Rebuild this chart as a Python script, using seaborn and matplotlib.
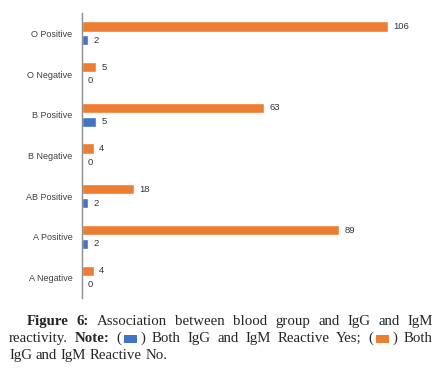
import math
import matplotlib
matplotlib.use("Agg")
import matplotlib.pyplot as plt
import pandas as pd
import seaborn as sns
from matplotlib.patches import Rectangle
from matplotlib.font_manager import FontProperties

groups = ["O Positive", "O Negative", "B Positive", "B Negative",
          "AB Positive", "A Positive", "A Negative"]
reactive_no = [106, 5, 63, 4, 18, 89, 4]
reactive_yes = [2, 0, 5, 0, 2, 2, 0]

orange = "#ED7D31"
blue = "#4472C4"

df = pd.DataFrame({
    "group": groups * 2,
    "count": reactive_no + reactive_yes,
    "reactive": ["No"] * len(groups) + ["Yes"] * len(groups),
})

sns.set_style("white")
plt.rcParams["font.family"] = ["Liberation Sans", "DejaVu Sans"]

fig = plt.figure(figsize=(4.42, 3.69), dpi=100)
ax = fig.add_axes([82 / 442, 1 - 298 / 369, (428 - 82) / 442, (298 - 13) / 369])

sns.barplot(data=df, y="group", x="count", hue="reactive", order=groups,
            hue_order=["No", "Yes"], palette=[orange, blue], orient="h",
            width=0.68, gap=0.25, saturation=1, legend=False, ax=ax)

for c in ax.containers:
    ax.bar_label(c, padding=4, fontsize=6.8, color="#333333")

ax.set_xlim(0, 120)
ax.set_xlabel("")
ax.set_ylabel("")
ax.set_xticks([])
ax.tick_params(axis="y", length=0, labelsize=6.5, pad=7, labelcolor="#404040")
for s in ["top", "right", "bottom"]:
    ax.spines[s].set_visible(False)
ax.spines["left"].set_color("#8c8c8c")
ax.spines["left"].set_linewidth(1)

# caption, justified like the journal layout (one text per word)
W, H = 442, 369
serif = ["Liberation Serif", "DejaVu Serif"]
fs = 10.7
renderer = fig.canvas.get_renderer()


def measure(s, weight):
    t = fig.text(0, 0, s, fontsize=fs, family=serif, weight=weight)
    bb = t.get_window_extent(renderer)
    t.remove()
    return bb.width


def put_word(x, row, s, weight):
    # agg snaps each word's bitmap to whole pixels; shift so all baselines land on `row`
    yflip = row
    try:
        from matplotlib.backends.backend_agg import get_hinting_flag
        font = renderer._prepare_font(FontProperties(family=serif, weight=weight, size=fs))
        font.set_text(s, 0, flags=get_hinting_flag())
        _, h = font.get_width_height()
        desc = font.get_descent()
        c = math.floor((h - desc) / 64) - (h // 64)
        yflip = row - c - desc / 64
    except Exception:
        pass
    fig.text(x / W, (H - yflip) / H, s, fontsize=fs, family=serif, weight=weight,
             va="baseline", ha="left")


BOX_W, BOX_H, BOX_PAD = 13, 8, 3


def token_width(tok):
    w = 0
    for p in tok:
        if p[0] == "box":
            w += BOX_W + 2 * BOX_PAD
        else:
            w += measure(p[1], p[2])
    return w


def draw_token(tok, x, row):
    for p in tok:
        if p[0] == "box":
            x += BOX_PAD
            fig.patches.append(Rectangle((x / W, (H - row - 0.5) / H), BOX_W / W, BOX_H / H,
                                         transform=fig.transFigure, facecolor=p[1],
                                         edgecolor="none"))
            x += BOX_W + BOX_PAD
        else:
            put_word(x, row, p[1], p[2])
            x += measure(p[1], p[2])


def words(s, weight="normal"):
    return [[("t", w, weight)] for w in s.split()]


line1 = words("Figure 6:", "bold") + words("Association between blood group and IgG and IgM")
line2 = (words("reactivity.") + words("Note:", "bold") +
         [[("t", "(", "normal"), ("box", blue), ("t", ")", "normal")]] +
         words("Both IgG and IgM Reactive Yes;") +
         [[("t", "(", "normal"), ("box", orange), ("t", ")", "normal")]] +
         words("Both"))
line3 = words("IgG and IgM Reactive No.")

space = measure("a b", "normal") - measure("ab", "normal")
right = 433
for toks, left, row, justify in [(line1, 27, 325, True), (line2, 9, 342, True),
                                 (line3, 9, 359, False)]:
    widths = [token_width(t) for t in toks]
    if justify:
        gap = (right - left - sum(widths)) / (len(toks) - 1)
    else:
        gap = space
    x = left
    for t, w in zip(toks, widths):
        draw_token(t, x, row)
        x += w + gap

fig.savefig("out.png", dpi=100)
